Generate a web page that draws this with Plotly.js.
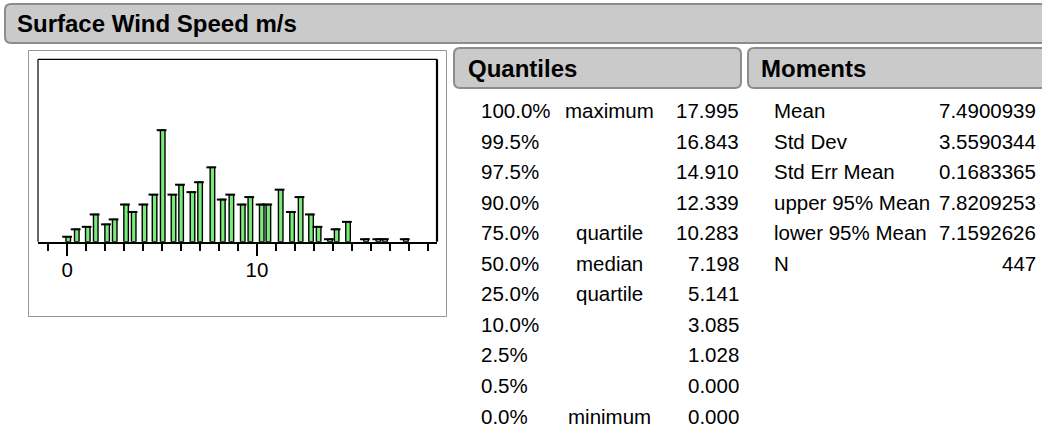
<!DOCTYPE html>
<html>
<head>
<meta charset="utf-8">
<script src="https://cdn.plot.ly/plotly-3.0.1.min.js"></script>
<style>
html,body{margin:0;padding:0;background:#fff;overflow:hidden;}
#chart{width:1042px;height:429px;}
</style>
</head>
<body>
<div id="chart"></div>
<script>
// ---- data ----
const reportTitle = 'Surface Wind Speed m/s';
const binCenters = [0.05, 0.5, 1.08, 1.5, 2.1, 2.5, 3.1, 3.5, 4.07, 4.6, 5.03, 5.6, 6.0, 6.6, 7.0, 7.65, 8.2, 8.65, 9.25, 9.65, 10.25, 10.6, 11.25, 11.85, 12.3, 12.85, 13.25, 13.85, 14.2, 14.8, 15.75, 16.4, 16.75, 17.85];
const binCounts  = [2, 5, 6, 11, 7, 9, 15, 12, 15, 19, 45, 19, 23, 20, 24, 30, 17, 19, 15, 18, 15, 15, 21, 12, 18, 11, 6, 1, 5, 8, 1, 1, 1, 1];
const xTickVals = [0, 10];
const xTickText = ['0', '10'];

const quantileHeader = 'Quantiles';
const quantileLevels = ['100.0%', '99.5%', '97.5%', '90.0%', '75.0%', '50.0%', '25.0%', '10.0%', '2.5%', '0.5%', '0.0%'];
const quantileNames  = ['maximum', '', '', '', 'quartile', 'median', 'quartile', '', '', '', 'minimum'];
const quantileValues = ['17.995', '16.843', '14.910', '12.339', '10.283', '7.198', '5.141', '3.085', '1.028', '0.000', '0.000'];

const momentsHeader = 'Moments';
const momentLabels = ['Mean', 'Std Dev', 'Std Err Mean', 'upper 95% Mean', 'lower 95% Mean', 'N'];
const momentValues = ['7.4900939', '3.5590344', '0.1683365', '7.8209253', '7.1592626', '447'];

// ---- layout helpers (pixel -> paper) ----
const W = 1042, H = 429;
const px = v => v / W;
const py = v => 1 - v / H;
const FONT = 'Liberation Sans, Arial, Helvetica, sans-serif';
const TXT = 20.5, HDR = 24;

function roundRectPath(x0, y0, x1, y1, r) {
  const P = (x, y) => px(x) + ',' + py(y);
  return 'M' + P(x0 + r, y0) + ' L' + P(x1 - r, y0) + ' Q' + P(x1, y0) + ' ' + P(x1, y0 + r) +
         ' L' + P(x1, y1 - r) + ' Q' + P(x1, y1) + ' ' + P(x1 - r, y1) +
         ' L' + P(x0 + r, y1) + ' Q' + P(x0, y1) + ' ' + P(x0, y1 - r) +
         ' L' + P(x0, y0 + r) + ' Q' + P(x0, y0) + ' ' + P(x0 + r, y0) + ' Z';
}
const hdrFill = 'rgb(202,202,202)', hdrLine = 'rgb(140,140,140)';
const shapes = [
  {type: 'path', xref: 'paper', yref: 'paper', path: roundRectPath(5, 4, 1060, 43, 6), fillcolor: hdrFill, line: {color: hdrLine, width: 2}, layer: 'below'},
  {type: 'path', xref: 'paper', yref: 'paper', path: roundRectPath(454, 48, 741, 88, 6), fillcolor: hdrFill, line: {color: hdrLine, width: 2}, layer: 'below'},
  {type: 'path', xref: 'paper', yref: 'paper', path: roundRectPath(748, 48, 1070, 88, 6), fillcolor: hdrFill, line: {color: hdrLine, width: 2}, layer: 'below'},
  // outer report frame around histogram
  {type: 'rect', xref: 'paper', yref: 'paper', x0: px(28.5), x1: px(446.5), y0: py(316.5), y1: py(50.5), line: {color: 'rgb(150,150,150)', width: 1}, layer: 'below'},
  // plot frame
  {type: 'line', xref: 'x domain', yref: 'y domain', x0: 0, x1: 0, y0: 0, y1: 1, line: {color: 'black', width: 1.2}},
  {type: 'line', xref: 'x domain', yref: 'y domain', x0: 0, x1: 1, y0: 1, y1: 1, line: {color: 'black', width: 1.2}},
  {type: 'line', xref: 'x domain', yref: 'y domain', x0: 1, x1: 1, y0: 0, y1: 1, line: {color: 'black', width: 2.2}}
];

const annotations = [];
const rowY = i => 110.5 + i * 30.55;
const txtFont = {family: FONT, size: TXT, color: 'black'};
const hdrFont = {family: FONT, size: HDR, color: 'black', weight: 'bold'};
annotations.push({xref: 'paper', yref: 'paper', x: px(466), y: py(68.5), xanchor: 'left', yanchor: 'middle', text: '<b>' + quantileHeader + '</b>', showarrow: false, font: hdrFont});
annotations.push({xref: 'paper', yref: 'paper', x: px(759), y: py(68.5), xanchor: 'left', yanchor: 'middle', text: '<b>' + momentsHeader + '</b>', showarrow: false, font: hdrFont});
quantileLevels.forEach((lv, i) => {
  annotations.push({xref: 'paper', yref: 'paper', x: px(479), y: py(rowY(i)), xanchor: 'left', yanchor: 'middle', text: lv, showarrow: false, font: txtFont});
  if (quantileNames[i]) annotations.push({xref: 'paper', yref: 'paper', x: px(609), y: py(rowY(i)), xanchor: 'center', yanchor: 'middle', text: quantileNames[i], showarrow: false, font: txtFont});
  annotations.push({xref: 'paper', yref: 'paper', x: px(741), y: py(rowY(i)), xanchor: 'right', yanchor: 'middle', text: quantileValues[i], showarrow: false, font: txtFont});
});
momentLabels.forEach((lb, i) => {
  annotations.push({xref: 'paper', yref: 'paper', x: px(772), y: py(rowY(i)), xanchor: 'left', yanchor: 'middle', text: lb, showarrow: false, font: txtFont});
  annotations.push({xref: 'paper', yref: 'paper', x: px(1038), y: py(rowY(i)), xanchor: 'right', yanchor: 'middle', text: momentValues[i], showarrow: false, font: txtFont});
});

const barTrace = {
  type: 'bar', x: binCenters, y: binCounts, width: 0.24,
  marker: {color: 'rgb(120,236,120)', line: {color: 'black', width: 1.4}},
  hoverinfo: 'x+y', showlegend: false
};
const capTrace = {
  type: 'scatter', mode: 'markers', x: binCenters.map(c => c - 0.06), y: binCounts,
  marker: {symbol: 'line-ew', size: 7, color: 'black', line: {color: 'black', width: 2}},
  hoverinfo: 'skip', showlegend: false, cliponaxis: false
};

const layout = {
  width: W, height: H,
  margin: {l: 0, r: 0, t: 0, b: 0, pad: 0},
  paper_bgcolor: 'white', plot_bgcolor: 'white',
  font: {family: FONT, color: 'black'},
  title: {text: '<b>' + reportTitle + '</b>', x: px(17), xref: 'paper', xanchor: 'left', y: py(24), yref: 'paper', yanchor: 'middle', font: {family: FONT, size: HDR, color: 'black'}},
  xaxis: {
    domain: [px(38), px(437)], range: [-1.545, 19.49],
    tickmode: 'array', tickvals: xTickVals, ticktext: xTickText,
    ticks: 'outside', ticklen: 12, tickwidth: 2, tickcolor: 'black',
    minor: {dtick: 1, tick0: 0, ticks: 'outside', ticklen: 7, tickwidth: 2, tickcolor: 'black', showgrid: false},
    tickfont: {family: FONT, size: TXT, color: 'black'},
    ticklabelstandoff: -3,
    showline: true, linecolor: 'black', linewidth: 2,
    showgrid: false, zeroline: false, fixedrange: true
  },
  yaxis: {
    domain: [py(241.7), py(59.3)], range: [0, 73.6],
    visible: false, showgrid: false, zeroline: false, fixedrange: true
  },
  bargap: 0,
  shapes: shapes,
  annotations: annotations
};

Plotly.newPlot('chart', [barTrace, capTrace], layout, {displayModeBar: false, staticPlot: true});
</script>
</body>
</html>
